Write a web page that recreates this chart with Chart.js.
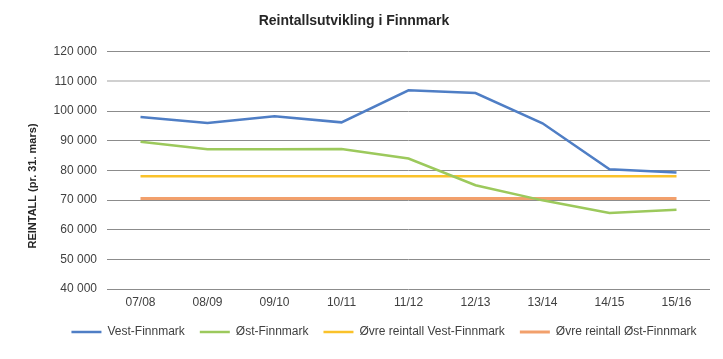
<!DOCTYPE html>
<html>
<head>
<meta charset="utf-8">
<script src="https://cdn.jsdelivr.net/npm/chart.js@4/dist/chart.umd.min.js"></script>
<style>
html,body{margin:0;padding:0;background:#fff;}
#wrap{width:723px;height:359px;position:relative;}
</style>
</head>
<body>
<div id="wrap"><canvas id="c" width="723" height="359"></canvas></div>
<script>
const categories = ["07/08","08/09","09/10","10/11","11/12","12/13","13/14","14/15","15/16"];
const vestFinnmark = [98000, 96000, 98300, 96200, 107000, 106100, 95900, 80400, 79300];
const ostFinnmark = [89700, 87100, 87100, 87200, 84000, 75000, 69900, 65600, 66700];
const ovreVest = [78000, 78000, 78000, 78000, 78000, 78000, 78000, 78000, 78000];
const ovreOst = [70500, 70500, 70500, 70500, 70500, 70500, 70500, 70500, 70500];
const yMin = 40000, yMax = 120000, yStep = 10000;
const yTitle = 'REINTALL (pr. 31. mars)';

const fmt = v => String(v).replace(/\B(?=(\d{3})+(?!\d))/g, ' ');
const textColor = '#404040';
const baseFont = {family: "'Liberation Sans', Arial, sans-serif", size: 12};

function ds(label, data, color, width){
  return {label, data, borderColor: color, backgroundColor: color, borderWidth: width,
          pointRadius: 0, pointHoverRadius: 0, tension: 0, fill: false};
}

const yTitlePlugin = {
  id: 'yTitlePlugin',
  afterLayout(chart){
    if (chart.legend) { chart.legend.left += 18; chart.legend.right += 18; }
    if (chart.titleBlock) { chart.titleBlock.left -= 12; chart.titleBlock.right -= 12; }
  },
  afterDraw(chart){
    const c = chart.ctx;
    c.save();
    c.translate(33, 186);
    c.rotate(-Math.PI/2);
    c.font = "bold 11px 'Liberation Sans', Arial, sans-serif";
    c.fillStyle = '#262626';
    c.textAlign = 'center';
    c.textBaseline = 'middle';
    c.fillText(yTitle, 0, 0);
    c.restore();
  }
};

new Chart(document.getElementById('c'), {
  type: 'line',
  data: {
    labels: categories,
    datasets: [
      ds('Vest-Finnmark', vestFinnmark, '#4F7EC5', 2.5),
      ds('Øst-Finnmark', ostFinnmark, '#9CC95C', 2.5),
      ds('Øvre reintall Vest-Finnmark', ovreVest, '#FAC22A', 2.5),
      ds('Øvre reintall Øst-Finnmark', ovreOst, '#F2A06C', 3)
    ]
  },
  plugins: [yTitlePlugin],
  options: {
    responsive: false,
    animation: false,
    devicePixelRatio: 1,
    layout: {padding: {left: 22, right: 13, top: 0, bottom: 11}},
    plugins: {
      title: {
        display: true,
        text: 'Reintallsutvikling i Finnmark',
        color: '#262626',
        font: {family: "'Liberation Sans Narrow', 'Liberation Sans', sans-serif", size: 14, weight: 'bold'},
        padding: {top: 13, bottom: 22}
      },
      legend: {
        position: 'bottom',
        labels: {
          color: textColor,
          font: baseFont,
          usePointStyle: true,
          pointStyle: 'line',
          pointStyleWidth: 30,
          boxWidth: 30,
          boxHeight: 12,
          padding: 15
        }
      },
      tooltip: {enabled: false}
    },
    scales: {
      x: {
        offset: true,
        grid: {display: false, drawTicks: false},
        border: {display: false},
        ticks: {color: textColor, font: baseFont, padding: 6, maxRotation: 0},
        afterFit: s => { s.height = 22; }
      },
      y: {
        min: yMin, max: yMax,
        border: {display: false},
        grid: {
          drawTicks: false,
          color: ctx => (ctx.tick && ctx.tick.value === 110000) ? '#D0D0D0' : '#8C8C8C',
          lineWidth: ctx => (ctx.tick && ctx.tick.value === 110000) ? 2 : 1
        },
        ticks: {stepSize: yStep, color: textColor, font: baseFont, padding: 10, callback: v => fmt(v)},
        title: {display: false},
        afterFit: s => { s.width = 85; }
      }
    }
  }
});
</script>
</body>
</html>
